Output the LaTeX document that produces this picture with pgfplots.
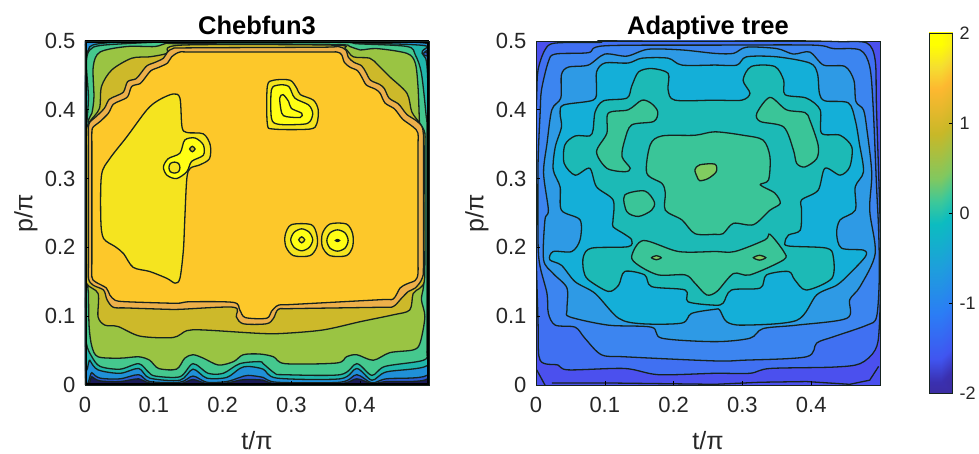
\documentclass[border=0pt]{standalone}
\usepackage{pgfplots}
\pgfplotsset{compat=1.18}
\usepackage{fontspec}
\setmainfont{Liberation Sans}
\definecolor{lc}{HTML}{16231F}
\definecolor{txt}{HTML}{262626}
\definecolor{a0}{HTML}{1A1A58}
\definecolor{a00}{HTML}{2A5CD0}
\definecolor{a1}{HTML}{2090D8}
\definecolor{a2}{HTML}{20B6AC}
\definecolor{a3}{HTML}{45C88E}
\definecolor{a4}{HTML}{9AC443}
\definecolor{a5}{HTML}{CDB92A}
\definecolor{a6}{HTML}{EDB04A}
\definecolor{a7}{HTML}{FDC82A}
\definecolor{a8}{HTML}{F5E41F}
\definecolor{a9}{HTML}{FFFF14}
\definecolor{b0}{HTML}{4B50EE}
\definecolor{b1}{HTML}{4070F2}
\definecolor{b2}{HTML}{3C85F0}
\definecolor{b3}{HTML}{2E9AE5}
\definecolor{b4}{HTML}{14AFD8}
\definecolor{b5}{HTML}{1CBAB6}
\definecolor{b6}{HTML}{3AC598}
\definecolor{b7}{HTML}{80CC60}
\newcommand\cf[2]{\addplot[smooth cycle, tension=0.5, draw=lc, fill=#1, line width=1.3pt] coordinates {#2};}
\pgfplotsset{
  colormap={cbar}{
    color(0)=(rgb,255:red,61;green,42;blue,150)
    color(1)=(rgb,255:red,58;green,48;blue,176)
    color(2)=(rgb,255:red,64;green,85;blue,240)
    color(4)=(rgb,255:red,43;green,125;blue,245)
    color(6)=(rgb,255:red,30;green,158;blue,220)
    color(8)=(rgb,255:red,12;green,188;blue,192)
    color(9)=(rgb,255:red,60;green,200;blue,154)
    color(10)=(rgb,255:red,128;green,200;blue,96)
    color(12)=(rgb,255:red,200;green,184;blue,40)
    color(14)=(rgb,255:red,253;green,184;blue,48)
    color(15)=(rgb,255:red,245;green,222;blue,48)
    color(16)=(rgb,255:red,255;green,255;blue,0)
  },
  panel/.style={
    scale only axis, width=344pt, height=344pt,
    anchor=south west,
    xmin=0, xmax=0.5, ymin=0, ymax=0.5,
    xtick={0,0.1,0.2,0.3,0.4}, ytick={0,0.1,0.2,0.3,0.4,0.5},
    xticklabels={0,0.1,0.2,0.3,0.4},
    yticklabels={0,0.1,0.2,0.3,0.4,0.5},
    tick align=inside, xtick pos=bottom, ytick pos=left,
    major tick length=3.5pt,
    tick style={black, line width=0.6pt},
    axis line style={draw=lc, line width=0.6pt},
    axis on top,
    /pgf/number format/assume math mode=true,
    tick label style={font=\fontsize{22}{22}\selectfont, text=txt},
    xticklabel style={yshift=-9pt},
    yticklabel style={xshift=-6pt},
    title style={font=\fontsize{25.5}{25.5}\bfseries\selectfont, text=black, at={(axis description cs:0.5,1)}, anchor=base, yshift=0pt},
    xlabel={t/π}, ylabel={p/π},
    xlabel style={font=\fontsize{25}{25}\selectfont, text=txt, at={(axis description cs:0.5,0)}, anchor=center, yshift=-56pt},
    ylabel style={font=\fontsize{25}{25}\selectfont, text=txt, at={(axis description cs:0,0.5)}, anchor=center, rotate=0, yshift=59pt},
  }
}
\begin{document}
\begin{tikzpicture}[x=1pt,y=1pt]
\useasboundingbox (0,0) rectangle (979pt,454pt);
\begin{axis}[panel, at={(85pt,69pt)}, title={Chebfun3}, axis background/.style={fill=a0}]
\cf{a00}{(0,.02)(.01,.012)(.022,.006)(.051,.005)(.078,.009)(.094,.003)(.138,.002)(.157,.008)(.177,.002)(.206,.003)(.225,.007)(.237,.008)(.259,.007)(.279,.002)(.371,.002)(.395,.009)(.417,.002)(.438,.005)(.498,.009)(.5,.05)(.5,.44)(.494,.485)(.474,.5)(.02,.5)(.002,.492)(0,.45)}
\cf{a1}{(0,.03)(.01,.018)(.022,.01)(.051,.009)(.078,.015)(.094,.005)(.138,.004)(.157,.013)(.177,.004)(.206,.005)(.225,.011)(.237,.014)(.259,.011)(.279,.004)(.371,.004)(.395,.015)(.417,.003)(.438,.009)(.497,.014)(.4995,.05)(.4995,.44)(.492,.48)(.472,.4985)(.02,.4985)(.002,.49)(0,.45)}
\cf{a2}{(.001,.051)(.007,.036)(.019,.022)(.051,.017)(.078,.024)(.094,.01)(.138,.007)(.157,.023)(.177,.01)(.206,.011)(.225,.024)(.237,.027)(.259,.023)(.279,.01)(.371,.009)(.395,.024)(.417,.007)(.438,.019)(.497,.028)(.4985,.06)(.4985,.43)(.49,.482)(.47,.495)(.12,.4995)(.02,.496)(.004,.484)(.001,.45)}
\cf{a3}{(.001,.109)(.002,.061)(.01,.041)(.022,.027)(.051,.023)(.078,.031)(.092,.019)(.102,.013)(.138,.012)(.157,.031)(.179,.017)(.201,.017)(.225,.031)(.254,.034)(.259,.031)(.276,.017)(.288,.015)(.371,.015)(.395,.031)(.417,.014)(.436,.027)(.492,.036)(.497,.051)(.497,.109)(.497,.145)(.497,.17)(.497,.37)(.496,.39)(.489,.453)(.48,.48)(.468,.492)(.395,.496)(.37,.498)(.14,.499)(.119,.499)(.027,.494)(.007,.487)(.002,.468)(.005,.419)(.003,.385)(.002,.36)(.001,.14)}
\cf{a4}{(.005,.133)(.006,.085)(.01,.056)(.019,.041)(.051,.039)(.078,.041)(.094,.036)(.107,.024)(.133,.023)(.145,.039)(.157,.044)(.172,.039)(.194,.029)(.216,.034)(.23,.044)(.254,.045)(.274,.041)(.291,.031)(.366,.032)(.38,.041)(.395,.044)(.419,.036)(.443,.047)(.477,.051)(.487,.061)(.494,.099)(.489,.124)(.492,.143)(.492,.17)(.487,.36)(.486,.385)(.484,.434)(.48,.468)(.468,.482)(.424,.489)(.4,.487)(.385,.492)(.36,.495)(.14,.496)(.119,.497)(.102,.492)(.061,.492)(.022,.484)(.012,.463)(.013,.419)(.01,.395)(.005,.385)(.005,.36)(.004,.16)}
\cf{a5}{(.002,.148)(.019,.133)(.019,.099)(.029,.087)(.048,.085)(.08,.071)(.128,.069)(.148,.079)(.172,.08)(.254,.075)(.288,.075)(.346,.08)(.4,.092)(.448,.102)(.472,.109)(.477,.133)(.487,.141)(.493,.15)(.494,.18)(.494,.34)(.494,.366)(.487,.38)(.475,.397)(.468,.424)(.443,.448)(.426,.465)(.414,.475)(.39,.477)(.378,.489)(.36,.494)(.14,.494)(.119,.482)(.094,.477)(.068,.475)(.039,.458)(.024,.434)(.021,.402)(.007,.383)(.002,.371)(.002,.34)(.002,.18)}
\cf{a6}{(.005,.155)(.012,.145)(.027,.138)(.032,.124)(.041,.113)(.06,.112)(.12,.11)(.138,.11)(.216,.113)(.22,.099)(.23,.089)(.264,.089)(.274,.097)(.281,.11)(.3,.111)(.43,.113)(.448,.114)(.46,.126)(.47,.136)(.48,.141)(.49,.155)(.492,.18)(.492,.34)(.491,.372)(.483,.383)(.468,.393)(.461,.402)(.455,.409)(.442,.417)(.435,.431)(.428,.437)(.415,.443)(.408,.455)(.402,.464)(.391,.469)(.383,.476)(.379,.487)(.368,.492)(.345,.491)(.15,.49)(.128,.489)(.12,.484)(.114,.475)(.102,.469)(.09,.464)(.081,.453)(.074,.445)(.062,.441)(.056,.426)(.045,.42)(.035,.415)(.028,.402)(.016,.39)(.007,.382)(.005,.373)(.005,.345)(.005,.185)}
\cf{a7}{(.01,.157)(.015,.15)(.031,.141)(.036,.131)(.044,.123)(.06,.121)(.12,.119)(.138,.119)(.153,.121)(.216,.12)(.225,.109)(.233,.098)(.264,.097)(.271,.107)(.281,.116)(.3,.117)(.43,.124)(.448,.125)(.458,.141)(.468,.147)(.48,.152)(.484,.162)(.484,.19)(.484,.34)(.484,.366)(.477,.375)(.462,.386)(.455,.395)(.449,.402)(.436,.41)(.429,.424)(.422,.43)(.409,.436)(.402,.448)(.396,.457)(.385,.462)(.377,.469)(.373,.48)(.366,.484)(.345,.484)(.16,.484)(.138,.484)(.126,.477)(.12,.468)(.108,.462)(.096,.457)(.087,.446)(.08,.438)(.068,.434)(.062,.419)(.051,.413)(.041,.408)(.034,.395)(.022,.383)(.012,.375)(.01,.368)(.01,.34)(.01,.185)}
\cf{a8}{(.024,.305)(.036,.329)(.061,.361)(.09,.4)(.107,.414)(.128,.423)(.138,.417)(.141,.375)(.148,.367)(.172,.365)(.182,.349)(.181,.329)(.167,.32)(.153,.315)(.148,.3)(.145,.24)(.143,.196)(.138,.155)(.131,.148)(.119,.155)(.094,.165)(.07,.171)(.056,.191)(.044,.201)(.027,.213)(.023,.24)}
\cf{a9}{(.145,.356)(.16,.359)(.172,.349)(.172,.334)(.155,.325)(.148,.31)(.133,.3)(.119,.305)(.114,.317)(.121,.329)(.138,.337)}
\cf{a8}{(.138,.316)(.136,.322)(.13,.324)(.124,.322)(.122,.316)(.124,.31)(.13,.308)(.136,.31)}
\cf{a5}{(.16,.343)(.156,.347)(.152,.343)(.156,.339)}
\cf{a8}{(.265,.434)(.274,.443)(.298,.443)(.308,.431)(.313,.422)(.332,.414)(.339,.4)(.337,.38)(.327,.372)(.274,.372)(.265,.38)}
\cf{a9}{(.271,.429)(.281,.436)(.296,.434)(.305,.417)(.325,.407)(.331,.395)(.327,.383)(.317,.379)(.281,.379)(.271,.388)}
\cf{a9}{(.283,.417)(.288,.422)(.296,.412)(.3,.402)(.315,.395)(.313,.389)(.293,.39)(.286,.395)}
\cf{a8}{(.291,.218)(.3,.233)(.329,.233)(.337,.218)(.337,.201)(.327,.188)(.303,.188)(.292,.201)}
\cf{a9}{(.331,.211)(.326,.222)(.315,.227)(.304,.222)(.299,.211)(.304,.2)(.315,.195)(.326,.2)}
\cf{a8}{(.3194,.211)(.315,.2154)(.3106,.211)(.315,.2066)}
\cf{a8}{(.345,.22)(.356,.234)(.38,.234)(.389,.22)(.389,.201)(.38,.188)(.356,.188)(.345,.201)}
\cf{a9}{(.3825,.21)(.378,.221)(.367,.2255)(.356,.221)(.3515,.21)(.356,.199)(.367,.1945)(.378,.199)}
\cf{black}{(.37,.21)(.367,.2115)(.364,.21)(.367,.2085)}
\addplot[black, line width=3.8pt] coordinates {(0,0)(0,.5)(.5,.5)(.5,0)(0,0)};
\end{axis}
\begin{axis}[panel, at={(536pt,69pt)}, title={Adaptive tree}, axis background/.style={fill=b0}]
\cf{b1}{(.1,.501)(.093,.498)(.028,.497)(.013,.487)(.003,.458)(.001,.419)(-.002,.3)(.003,.09)(.006,.036)(.032,.029)(.047,.022)(.129,.024)(.178,.015)(.26,.017)(.311,.017)(.34,.024)(.432,.026)(.471,.031)(.493,.051)(.499,.085)(.501,.2)(.495,.4)(.493,.472)(.481,.497)(.442,.499)(.401,.5)(.25,.502)}
\cf{b2}{(.26,.494)(.1,.493)(.076,.483)(.028,.481)(.018,.47)(.008,.429)(.006,.395)(.003,.322)(.003,.206)(.006,.172)(.016,.133)(.018,.104)(.028,.087)(.057,.084)(.071,.068)(.095,.044)(.129,.041)(.26,.035)(.301,.036)(.393,.041)(.408,.061)(.432,.07)(.481,.087)(.495,.099)(.499,.157)(.498,.225)(.495,.288)(.49,.405)(.485,.463)(.471,.487)(.432,.489)(.403,.494)}
\cf{b3}{(.26,.482)(.212,.487)(.163,.488)(.132,.478)(.1,.481)(.076,.465)(.047,.462)(.037,.451)(.036,.417)(.023,.4)(.016,.351)(.011,.308)(.018,.254)(.013,.24)(.011,.182)(.025,.162)(.045,.141)(.045,.109)(.049,.099)(.105,.087)(.168,.084)(.183,.068)(.26,.063)(.311,.068)(.33,.082)(.379,.087)(.452,.097)(.456,.124)(.471,.143)(.493,.191)(.485,.254)(.488,.308)(.481,.371)(.476,.4)(.465,.412)(.462,.443)(.449,.463)(.418,.465)(.398,.484)(.374,.481)(.35,.489)(.306,.491)(.287,.482)}
\cf{b4}{(.26,.465)(.212,.465)(.192,.475)(.154,.475)(.134,.468)(.1,.468)(.088,.455)(.088,.429)(.083,.414)(.04,.407)(.035,.395)(.037,.375)(.028,.346)(.025,.313)(.035,.288)(.037,.254)(.064,.24)(.064,.211)(.052,.194)(.025,.194)(.02,.182)(.037,.174)(.057,.15)(.086,.133)(.12,.097)(.154,.089)(.212,.09)(.226,.104)(.26,.11)(.267,.109)(.277,.092)(.301,.087)(.379,.094)(.408,.131)(.437,.145)(.456,.162)(.479,.187)(.476,.196)(.444,.199)(.437,.22)(.442,.24)(.464,.254)(.464,.288)(.476,.31)(.47,.351)(.464,.385)(.454,.41)(.42,.413)(.412,.424)(.409,.453)(.398,.468)(.35,.477)(.306,.477)(.292,.465)}
\cf{b5}{(.26,.414)(.202,.414)(.192,.429)(.192,.453)(.168,.46)(.149,.455)(.139,.434)(.132,.417)(.098,.413)(.086,.397)(.083,.371)(.078,.362)(.057,.362)(.042,.349)(.041,.322)(.057,.305)(.078,.315)(.088,.288)(.112,.269)(.112,.24)(.112,.23)(.129,.219)(.139,.211)(.134,.201)(.081,.199)(.069,.187)(.069,.167)(.076,.153)(.105,.136)(.12,.145)(.129,.165)(.158,.16)(.168,.143)(.217,.138)(.221,.121)(.26,.116)(.272,.119)(.284,.138)(.326,.141)(.335,.16)(.367,.165)(.376,.153)(.393,.138)(.43,.155)(.432,.187)(.422,.199)(.367,.202)(.362,.208)(.367,.218)(.384,.225)(.386,.254)(.386,.269)(.41,.283)(.42,.315)(.442,.305)(.456,.317)(.459,.346)(.442,.363)(.415,.366)(.413,.4)(.393,.417)(.362,.422)(.36,.443)(.347,.463)(.313,.463)(.301,.443)(.311,.424)(.299,.414)}
\cf{b6}{(.231,.363)(.183,.362)(.166,.349)(.161,.308)(.183,.293)(.188,.279)(.188,.254)(.212,.24)(.231,.22)(.26,.219)(.272,.22)(.287,.235)(.316,.233)(.34,.254)(.355,.264)(.347,.279)(.326,.291)(.338,.298)(.34,.332)(.33,.356)(.301,.363)(.26,.368)}
\cf{b6}{(.154,.414)(.168,.409)(.177,.397)(.171,.383)(.139,.378)(.129,.356)(.125,.332)(.137,.315)(.129,.31)(.103,.315)(.088,.339)(.103,.366)(.105,.395)(.134,.4)}
\cf{b6}{(.34,.418)(.364,.4)(.391,.396)(.398,.385)(.41,.349)(.408,.329)(.391,.317)(.379,.322)(.374,.342)(.36,.375)(.326,.383)(.321,.395)}
\cf{b6}{(.129,.276)(.158,.282)(.172,.266)(.168,.254)(.149,.245)(.132,.252)}
\cf{b6}{(.139,.187)(.156,.21)(.207,.194)(.26,.194)(.289,.194)(.333,.211)(.34,.219)(.36,.194)(.36,.182)(.311,.16)(.287,.162)(.263,.136)(.248,.131)(.231,.148)(.217,.16)(.178,.16)(.149,.174)}
\cf{b7}{(.231,.313)(.238,.32)(.26,.321)(.262,.31)(.25,.3)(.238,.297)(.234,.303)}
\cf{b7}{(.182,.185)(.175,.188)(.168,.185)(.175,.182)}
\cf{b7}{(.334,.185)(.325,.1885)(.316,.185)(.325,.1815)}
\addplot[lc, line width=1.3pt] coordinates {(.001,.022)(.013,0)};
\addplot[lc, line width=1.3pt] coordinates {(.023,.003)(.1,.003)(.26,.001)(.326,.004)(.393,.005)(.456,.001)(.485,.007)(.498,.027)};
\end{axis}
\begin{axis}[scale only axis, width=23pt, height=360pt, anchor=south west, at={(929pt,61pt)},
  xmin=0, xmax=1, ymin=-2, ymax=2, xtick=\empty, ytick={-2,-1,0,1,2},
  yticklabels={-2,-1,0,1,2}, ytick pos=right, yticklabel pos=right,
  tick align=inside, major tick length=3.5pt, tick style={black, line width=0.6pt},
  axis line style={draw=lc, line width=0.6pt}, axis on top, colormap name=cbar,
  /pgf/number format/assume math mode=true,
  yticklabel style={xshift=4pt},
  tick label style={font=\fontsize{18}{18}\selectfont, text=txt}]
\addplot[matrix plot*, point meta=y, mesh/cols=2, shader=interp] coordinates {
(0,-2)(1,-2)(0,-1.75)(1,-1.75)(0,-1.5)(1,-1.5)(0,-1.25)(1,-1.25)(0,-1)(1,-1)(0,-.75)(1,-.75)(0,-.5)(1,-.5)(0,-.25)(1,-.25)(0,0)(1,0)(0,.25)(1,.25)(0,.5)(1,.5)(0,.75)(1,.75)(0,1)(1,1)(0,1.25)(1,1.25)(0,1.5)(1,1.5)(0,1.75)(1,1.75)(0,2)(1,2)};
\end{axis}
\end{tikzpicture}
\end{document}
